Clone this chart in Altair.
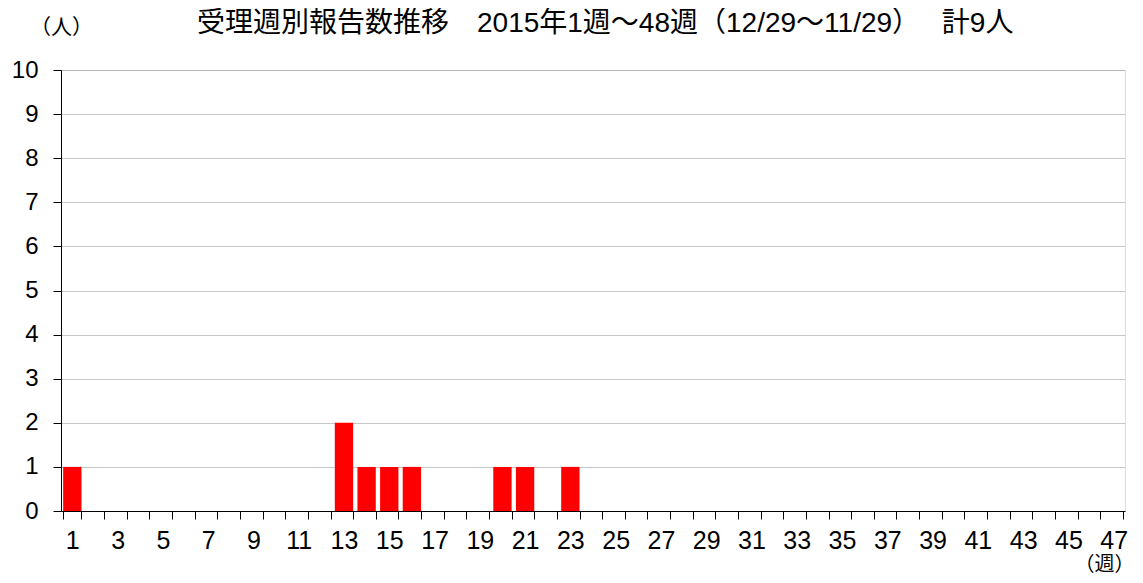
import altair as alt
import pandas as pd

weeks = list(range(1, 48))
counts = [1, 0, 0, 0, 0, 0, 0, 0, 0, 0,
          0, 0, 2, 1, 1, 1, 0, 0, 0, 1,
          1, 0, 1, 0, 0, 0, 0, 0, 0, 0,
          0, 0, 0, 0, 0, 0, 0, 0, 0, 0,
          0, 0, 0, 0, 0, 0, 0]
y_ticks = list(range(0, 11))

title_text = "受理週別報告数推移　2015年1週～48週（12/29～11/29）　 計9人"
FONT = "Liberation Sans, Noto Sans CJK JP, sans-serif"

df = pd.DataFrame({"week": weeks, "count": counts})

chart = alt.Chart(df).mark_bar(color="#FF0000").encode(
    x=alt.X(
        "week:O",
        sort=weeks,
        scale=alt.Scale(domain=weeks, paddingInner=0.19, paddingOuter=0.095),
        axis=alt.Axis(
            title="（週）",
            titleFont=FONT,
            titleFontSize=20,
            titleFontWeight="normal",
            titleColor="#000000",
            titleAngle=0,
            titleAlign="right",
            titleBaseline="middle",
            titleX=1073,
            titleY=53,
            labelAngle=0,
            labelFont=FONT,
            labelFontSize=25,
            labelColor="#000000",
            labelPadding=9,
            labelExpr="datum.value % 2 == 1 ? datum.label : ''",
            labelOverlap=False,
            tickBand="extent",
            tickSize=8,
            tickColor="#000000",
            domainColor="#000000",
            grid=False,
        ),
    ),
    y=alt.Y(
        "count:Q",
        scale=alt.Scale(domain=[0, 10], nice=False),
        axis=alt.Axis(
            values=y_ticks,
            title="（人）",
            titleFont=FONT,
            titleFontSize=21,
            titleFontWeight="normal",
            titleColor="#000000",
            titleAngle=0,
            titleAlign="center",
            titleBaseline="middle",
            titleX=0,
            titleY=-43,
            labelFont=FONT,
            labelFontSize=24,
            labelColor="#000000",
            labelPadding=15,
            tickSize=8,
            tickColor="#000000",
            domainColor="#000000",
            grid=True,
            gridColor="#8c8c8c",
            gridDash=[1, 1],
            gridWidth=1,
        ),
    ),
).properties(
    width=1064,
    height=441,
    autosize=alt.AutoSizeParams(type="none"),
    padding={"left": 53, "top": 62, "right": 10, "bottom": 64},
    title=alt.TitleParams(
        text=title_text,
        font=FONT,
        fontSize=28,
        fontWeight="normal",
        color="#000000",
        anchor="start",
        frame="group",
        dx=136,
        dy=22,
        offset=0,
    ),
).configure_view(stroke=None).configure(background="#ffffff")

chart.save("out.html", embed_options={"renderer": "svg", "actions": False})
